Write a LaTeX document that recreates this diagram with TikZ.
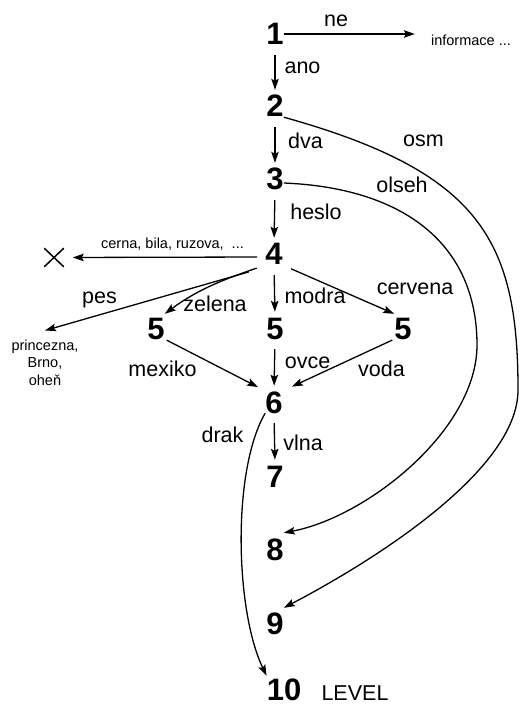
\documentclass[tikz,border=0pt]{standalone}
\usepackage{fontspec}
\setmainfont{Liberation Sans}
\usetikzlibrary{arrows.meta,shapes.misc}
\tikzset{
  num/.style={font=\fontsize{31}{31}\selectfont\bfseries, inner sep=0pt, anchor=base, text height=22pt, text depth=0pt},
  lab/.style={font=\fontsize{21.5}{24}\selectfont, inner sep=0pt, anchor=base},
  smalltxt/.style={font=\fontsize{14.5}{17.5}\selectfont, inner sep=0pt},
  arr/.style={line width=1.3pt, -{Stealth[length=11pt,width=7.5pt,inset=2pt]}},
  varr/.style={arr, shorten <=10pt, shorten >=5pt},
}
\begin{document}
\begin{tikzpicture}[x=1pt,y=-1pt]
\useasboundingbox[fill=white] (0,0) rectangle (525,708);

% digit nodes
\node[num] (n1) at (275,45) {1};
\node[num] (n2) at (275,117) {2};
\node[num] (n3) at (275,190) {3};
\node[num] (n4) at (274,265) {4};
\node[num] (n5l) at (156,339) {5};
\node[num] (n5m) at (275,339) {5};
\node[num] (n5r) at (403,339) {5};
\node[num] (n6) at (274,413) {6};
\node[num] (n7) at (275,487) {7};
\node[num] (n8) at (275,560) {8};
\node[num] (n9) at (275,634) {9};
\node[num] (n10) at (284,700) {10};
\node[lab] (level) at (355,700) {LEVEL};

% end targets
\node[smalltxt, anchor=base] (info) at (471,46) {informace ...};
\node[draw, cross out, minimum width=18pt, minimum height=17pt, inner sep=0pt, line width=1.5pt] (x) at (54,257.5) {};
\node[smalltxt, anchor=north, align=center] (pr) at (45,339.5) {princezna,\\Brno,\\oheň};

% labels
\node[lab] (lne) at (336,27) {ne};
\node[lab] (lano) at (302.5,74) {ano};
\node[lab] (ldva) at (305.5,149) {dva};
\node[lab] (losm) at (423.5,147) {osm};
\node[lab] (lolseh) at (402,193) {olseh};
\node[lab] (lheslo) at (316,220) {heslo};
\node[smalltxt, anchor=base] (lcerna) at (172.5,248) {cerna, bila, ruzova,\ \ ...};
\node[lab] (lpes) at (99.5,303) {pes};
\node[lab] (lzelena) at (215,311) {zelena};
\node[lab] (lmodra) at (315,303) {modra};
\node[lab] (lcervena) at (415,294) {cervena};
\node[lab] (lmexiko) at (162.5,376) {mexiko};
\node[lab] (lovce) at (307.5,368) {ovce};
\node[lab] (lvoda) at (381.5,376) {voda};
\node[lab] (ldrak) at (222.5,442) {drak};
\node[lab] (lvlna) at (303,450) {vlna};

% straight connectors
\draw[arr, shorten >=16pt] (n1.east) -- (n1.east -| info.west);
\draw[varr] (n1.south) -- (n2.north);
\draw[varr] (n2.south) -- (n3.north);
\draw[varr] (n3.south) -- (n4.north);
\draw[varr] (n4.south) -- (n5m.north);
\draw[varr] (n5m.south) -- (n6.north);
\draw[varr] (n6.south) -- (n7.north);
\draw[arr, shorten <=8pt, shorten >=9pt] ([yshift=-3pt]n4.west) -- (x.east);
\draw[arr, shorten <=17pt] ([yshift=-2pt]n4.south west) -- ([yshift=9pt]pr.north);
\draw[arr, shorten <=9pt] (n4.south west) .. controls (222,280) and (197,290) .. ([yshift=3pt]n5l.north east);
\draw[arr, shorten <=9pt] (n4.south east) -- ([yshift=3pt]n5r.north west);
\draw[arr, shorten <=2pt, shorten >=8pt] (n5l.south east) -- (n6.north west);
\draw[arr, shorten <=2pt, shorten >=10pt] (n5r.south west) -- (n6.north east);

% curved connectors
\draw[arr] (n2.south east) .. controls (480,172) and (518,240) .. (518,390)
  .. controls (518,470) and (375,560) .. ([yshift=4pt]n9.north east);
\draw[arr] ([yshift=-4pt]n3.east) .. controls (405,188) and (477,245) .. (477,345)
  .. controls (477,430) and (367,517) .. ([yshift=5pt]n8.north east);
\draw[arr] (n6.south west) .. controls (232,470) and (235,610) .. ([yshift=2pt]n10.north west);
\end{tikzpicture}
\end{document}
